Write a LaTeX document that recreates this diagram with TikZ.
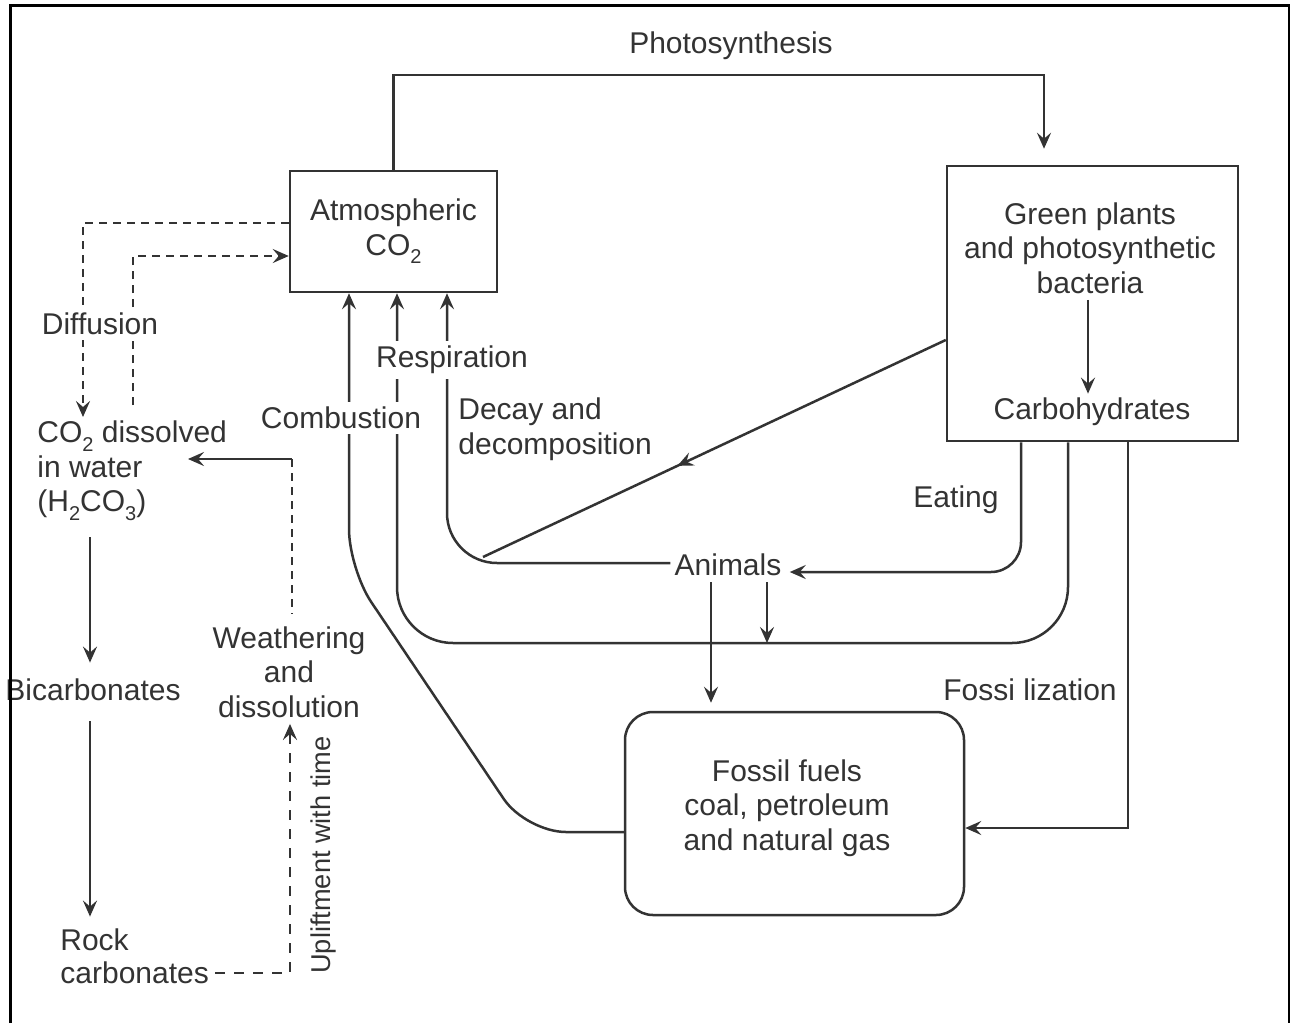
\documentclass[tikz,border=0pt]{standalone}
\usepackage{fontspec}
\setmainfont{Liberation Sans}
\usetikzlibrary{arrows.meta,decorations.markings}
\definecolor{ink}{HTML}{333333}
\newcommand{\mysub}[1]{\raisebox{-0.55ex}{\fontsize{10}{10}\selectfont #1}}
\begin{document}
\begin{tikzpicture}[x=0.5pt,y=-0.5pt,
  every node/.style={font=\fontsize{15}{17.25}\selectfont, text=ink, inner sep=0pt},
  ln/.style={draw=ink, line width=1.25pt},
  arr/.style={ln, -{Stealth[length=8pt,width=7pt,inset=3pt]}},
  dsh/.style={ln, dash pattern=on 4pt off 3pt},
  dsharr/.style={dsh, -{Stealth[length=8pt,width=7pt,inset=3pt]}},
  lbl/.style={fill=white, inner sep=2.5pt},
  box/.style={draw=ink, line width=1.25pt, align=center}]
\useasboundingbox (0,0) rectangle (1290,1023);
\fill[white] (0,0) rectangle (1290,1023);

% boxes
\node[box, minimum width=103.5pt, minimum height=60.5pt] (atm) at (393.5,231.5) {Atmospheric\\CO\mysub{2}};
\node[box, minimum width=145.5pt, minimum height=137.5pt] (green) at (1092.5,303.5) {};
\node[box, rounded corners=14pt, minimum width=169.5pt, minimum height=101.5pt] (fossil) at (794.5,813.5) {};

% texts
\node[align=center] (gtxt) at (1090,248) {Green plants\\and photosynthetic\\bacteria};
\node (carb) at (1092,412) {Carbohydrates};
\node[align=center] (ftxt) at (787,808) {Fossil fuels\\coal, petroleum\\and natural gas};
\node (photo) at (731,46) {Photosynthesis};
\node[anchor=west, align=left] (decay) at (458,429) {Decay and\\decomposition};
\node (eating) at (956,500) {Eating};
\node (animals) at (728,565) {Animals};
\node (fossiliz) at (1030,690) {Fossi lization};
\node[anchor=west, align=left] (co2w) at (37,471) {CO\mysub{2} dissolved\\in water\\(H\mysub{2}CO\mysub{3})};
\node (bic) at (93,690) {Bicarbonates};
\node[anchor=west] (rockn) at (60,940) {Rock};
\node[anchor=west] (carbn) at (60,973) {carbonates};
\node[align=center] (weather) at (289,672) {Weathering\\and\\dissolution};
\node[rotate=90, font=\fontsize{13.6}{15}\selectfont] (uplift) at (323,855) {Upliftment with time};

% coordinates
\coordinate (p1) at (393.5,75);
\coordinate (p2) at (1044,75);
\coordinate (d1) at (83,223);
\coordinate (d2) at (83,417);
\coordinate (d3) at (133,405);
\coordinate (d4) at (133,256);
\coordinate (w1) at (292,459);
\coordinate (w2) at (188,459);
\coordinate (u1) at (290,973);
\coordinate (l1) at (90,540);
\coordinate (c1) at (526,832);
\coordinate (c2) at (349,569);
\coordinate (r1) at (1068,643);
\coordinate (r2) at (397,643);
\coordinate (dx) at (447,563);
\coordinate (jn) at (483,557);
\coordinate (e1) at (1021,572);
\coordinate (f1) at (1128,828);
\coordinate (a1) at (767,582);
\coordinate (a2) at (711,582);

% photosynthesis
\draw[arr, shorten >=8pt] (atm.north) -- (p1) -- (p2) -- (green.north -| p2);
% inner arrow
\draw[arr, shorten <=3pt, shorten >=2pt] (gtxt.south -| 1088,0) -- (carb.north -| 1088,0);

% diffusion
\draw[dsharr] ([yshift=4.25pt]atm.west) -- (d1) -- (d2);
\draw[dsharr] (d3) -- (d4) -- ([yshift=-12.25pt]atm.west);

% weathering
\draw[arr] (w1) -- (w2);
\draw[dsh, shorten >=6pt] (w1) -- (weather.north -| w1);
\draw[dsharr, dash pattern=on 5pt off 4.5pt, shorten <=3pt, shorten >=3pt] (carbn.east) -- (u1) -- (weather.south -| u1);

% left column
\draw[arr, shorten <=8pt, shorten >=8pt] (co2w.south -| l1) -- (bic.north -| l1);
\draw[arr, shorten <=10pt, shorten >=6pt] (bic.south -| l1) -- (rockn.north -| l1);

% combustion
\draw[arr, rounded corners=20pt] (fossil.west |- c1) -- (c1) -- (c2) -- (atm.south -| c2);
% respiration
\draw[arr, rounded corners=28pt] (green.south -| r1) -- (r1) -- (r2) -- (atm.south -| r2);
% decay
\draw[arr, rounded corners=25pt, shorten <=2pt] (animals.west |- dx) -- (dx) -- (atm.south -| dx);
\draw[ln, postaction=decorate, decoration={markings, mark=at position 0.58 with {\arrow{Stealth[length=8pt,width=7pt,inset=3pt]}}}] ([yshift=-18.25pt]green.west) -- (jn);
% eating
\draw[arr, rounded corners=15pt, shorten >=4pt] (green.south -| e1) -- (e1) -- (animals.east |- e1);
% fossilization
\draw[arr] (green.south -| f1) -- (f1) -- (fossil.east |- f1);
% animals down
\draw[arr] (a1) -- (a1 |- r1);
\draw[arr, shorten >=4pt] (a2) -- (fossil.north -| a2);

% interrupting labels
\node[lbl] (diff) at (100,324) {Diffusion};
\node[lbl] (resp) at (452,360) {Respiration};
\node[lbl] (comb) at (341,418) {Combustion};

% frame
\draw[line width=1.5pt, black] (10,1023) -- (10,5) -- (1289,5) -- (1289,1023);
\end{tikzpicture}
\end{document}
